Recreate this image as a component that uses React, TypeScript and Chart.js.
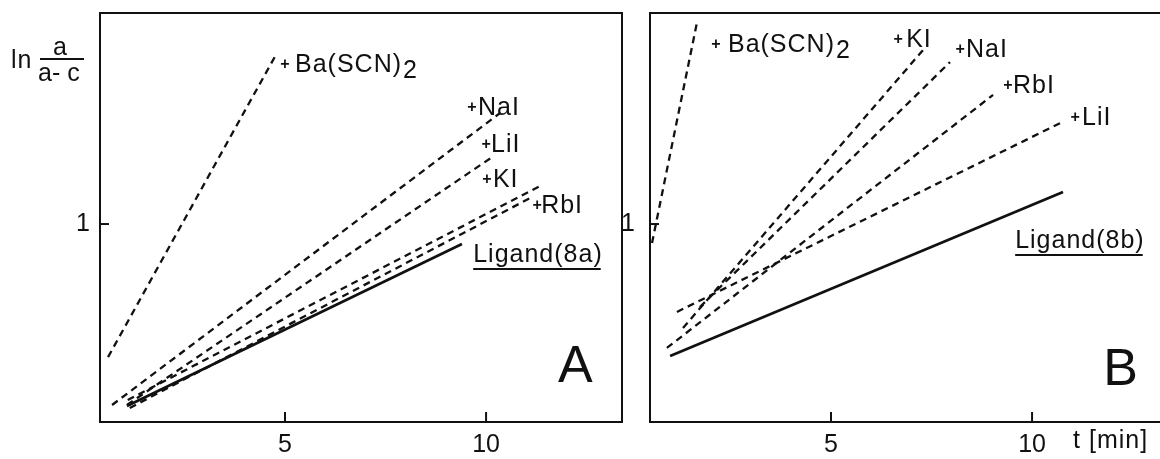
import React, { useEffect, useRef } from 'react';
import { Chart, registerables } from 'chart.js';

Chart.register(...registerables);

const FONT = '"Liberation Sans", Arial, sans-serif';
const INK = '#111111';

// axis ticks
const xTickValues = [5, 10];
const yTickValues = [1];

// Panel A
const seriesA = ['Ba(SCN)2', 'NaI', 'LiI', 'KI', 'RbI', 'Ligand(8a)'];
const timesA = [[0.6, 4.8], [0.7, 10.35], [1.07, 10.15], [1.09, 11.34], [1.14, 11.14], [1.07, 9.4]];
const valuesA = [[0.328, 1.864], [0.086, 1.561], [0.086, 1.338], [0.111, 1.192], [0.071, 1.136], [0.081, 0.899]];

// Panel B
const seriesB = ['Ba(SCN)2', 'KI', 'NaI', 'RbI', 'LiI', 'Ligand(8b)'];
const timesB = [[0.55, 1.67], [1.32, 7.29], [1.74, 7.96], [0.92, 9.03], [1.17, 10.75], [1.0, 10.77]];
const valuesB = [[0.904, 2.02], [0.475, 1.879], [0.581, 1.818], [0.374, 1.652], [0.556, 1.515], [0.333, 1.162]];

// label anchors (data units)
const labelsA = [
  { text: 'Ba(SCN)', sub: '2', x: 5.0, y: 1.768, gap: 10 },
  { text: 'NaI', x: 9.65, y: 1.551, gap: 6 },
  { text: 'LiI', x: 10.0, y: 1.364, gap: 5 },
  { text: 'KI', x: 10.02, y: 1.187, gap: 6 },
  { text: 'RbI', x: 11.27, y: 1.056, gap: 4 },
];
const labelsB = [
  { text: 'Ba(SCN)', sub: '2', x: 2.14, y: 1.869, gap: 12 },
  { text: 'KI', x: 6.67, y: 1.894, gap: 8 },
  { text: 'NaI', x: 8.21, y: 1.843, gap: 6 },
  { text: 'RbI', x: 9.4, y: 1.662, gap: 5 },
  { text: 'LiI', x: 11.07, y: 1.5, gap: 7 },
];
const ligandA = { text: 'Ligand(8a)', x: 9.68, y: 0.808 };
const ligandB = { text: 'Ligand(8b)', x: 9.58, y: 0.879 };
const letterA = { text: 'A', x: 11.79, y: 0.202 };
const letterB = { text: 'B', x: 11.77, y: 0.187 };

type Panel = {
  names: string[];
  times: number[][];
  values: number[][];
  labels: any[];
  ligand: any;
  letter: any;
  xmin: number;
  xmax: number;
  yWidth: number;
  padRight: number;
  yPad: number;
  title: 'y' | 'x';
};

const YMAX = 2.066;

function annotations(p: Panel) {
  return {
    id: 'annot' + p.title,
    afterDraw(chart: any) {
      const { ctx, chartArea } = chart;
      const xs = chart.scales.x;
      const ys = chart.scales.y;
      ctx.save();
      // frame
      ctx.strokeStyle = INK;
      ctx.lineWidth = 2;
      ctx.strokeRect(chartArea.left, chartArea.top, chartArea.right - chartArea.left, chartArea.bottom - chartArea.top);
      // inward tick marks
      ctx.lineWidth = 2;
      xs.ticks.forEach((t: any) => {
        const px = xs.getPixelForValue(t.value);
        ctx.beginPath();
        ctx.moveTo(px, chartArea.bottom);
        ctx.lineTo(px, chartArea.bottom - 10);
        ctx.stroke();
      });
      ys.ticks.forEach((t: any) => {
        const py = ys.getPixelForValue(t.value);
        ctx.beginPath();
        ctx.moveTo(chartArea.left, py);
        ctx.lineTo(chartArea.left + 9, py);
        ctx.stroke();
      });
      ctx.fillStyle = INK;
      ctx.textAlign = 'left';
      ctx.textBaseline = 'alphabetic';
      // series labels
      p.labels.forEach((l: any) => {
        const px = xs.getPixelForValue(l.x);
        const py = ys.getPixelForValue(l.y);
        ctx.font = 'bold 16px ' + FONT;
        (ctx as any).letterSpacing = '0px';
        ctx.textAlign = 'center';
        ctx.fillText('+', px, py - 3);
        ctx.textAlign = 'left';
        ctx.font = '25px ' + FONT;
        (ctx as any).letterSpacing = '1px';
        const tx = px + l.gap;
        ctx.fillText(l.text, tx, py);
        if (l.sub) {
          const w = ctx.measureText(l.text).width;
          ctx.fillText(l.sub, tx + w + 1, py + 6);
        }
      });
      // ligand label with underline
      {
        const px = xs.getPixelForValue(p.ligand.x);
        const py = ys.getPixelForValue(p.ligand.y);
        ctx.font = '25px ' + FONT;
        (ctx as any).letterSpacing = '1px';
        ctx.fillText(p.ligand.text, px, py);
        const w = ctx.measureText(p.ligand.text).width;
        ctx.beginPath();
        ctx.lineWidth = 2;
        ctx.moveTo(px, py + 7);
        ctx.lineTo(px + w - 2, py + 7);
        ctx.stroke();
      }
      // panel letter
      {
        const px = xs.getPixelForValue(p.letter.x);
        const py = ys.getPixelForValue(p.letter.y);
        ctx.font = '52px ' + FONT;
        (ctx as any).letterSpacing = '0px';
        ctx.fillText(p.letter.text, px, py);
      }
      // axis titles
      ctx.font = '25px ' + FONT;
      (ctx as any).letterSpacing = '1px';
      if (p.title === 'y') {
        ctx.fillText('ln', 11, 68);
        (ctx as any).letterSpacing = '0px';
        ctx.fillText('a', 53, 55);
        ctx.beginPath();
        ctx.lineWidth = 2;
        ctx.moveTo(40, 59);
        ctx.lineTo(84, 59);
        ctx.stroke();
        ctx.fillText('a- c', 38, 81);
      } else {
        const px = xs.getPixelForValue(11.02);
        ctx.fillText('t [min]', px, chartArea.bottom + 26);
      }
      ctx.restore();
    },
  };
}

function makeChart(canvas: HTMLCanvasElement, p: Panel) {
  const last = p.names.length - 1;
  return new Chart(canvas, {
    type: 'line',
    data: {
      datasets: p.names.map((n, i) => ({
        label: n,
        data: p.times[i].map((x, j) => ({ x, y: p.values[i][j] })),
        borderColor: INK,
        borderWidth: i === last ? 2.7 : 2.3,
        borderDash: i === last ? [] : [7, 5],
        pointRadius: 0,
        fill: false,
        tension: 0,
      })),
    },
    options: {
      animation: false,
      responsive: false,
      maintainAspectRatio: false,
      events: [],
      layout: { padding: { top: 13, right: p.padRight, left: 0, bottom: 0 } },
      plugins: { legend: { display: false }, tooltip: { enabled: false } },
      scales: {
        x: {
          type: 'linear',
          min: p.xmin,
          max: p.xmax,
          grid: { display: false, drawTicks: false, tickLength: 0 },
          border: { display: false },
          ticks: { font: { family: FONT, size: 25 }, color: INK, padding: 8, maxRotation: 0, autoSkip: false },
          afterBuildTicks: (s: any) => {
            s.ticks = xTickValues.map((v) => ({ value: v }));
          },
          afterFit: (s: any) => {
            s.height = 37;
            s.paddingLeft = 0;
            s.paddingRight = 0;
          },
        },
        y: {
          type: 'linear',
          min: 0,
          max: YMAX,
          grid: { display: false, drawTicks: false, tickLength: 0 },
          border: { display: false },
          ticks: { font: { family: FONT, size: 25 }, color: INK, padding: p.yPad, autoSkip: false },
          afterBuildTicks: (s: any) => {
            s.ticks = yTickValues.map((v) => ({ value: v }));
          },
          afterFit: (s: any) => {
            s.width = p.yWidth;
            s.paddingTop = 0;
            s.paddingBottom = 0;
          },
        },
      },
    } as any,
    plugins: [annotations(p)],
  });
}

const panelA: Panel = {
  names: seriesA, times: timesA, values: valuesA, labels: labelsA, ligand: ligandA, letter: letterA,
  xmin: 0.4, xmax: 13.38, yWidth: 100, padRight: 18, yPad: 10, title: 'y',
};
const panelB: Panel = {
  names: seriesB, times: timesB, values: valuesB, labels: labelsB, ligand: ligandB, letter: letterB,
  xmin: 0.5, xmax: 13.43, yWidth: 50, padRight: 30, yPad: 15, title: 'x',
};

export default function App() {
  const refA = useRef<HTMLCanvasElement>(null);
  const refB = useRef<HTMLCanvasElement>(null);
  useEffect(() => {
    const a = makeChart(refA.current!, panelA);
    const b = makeChart(refB.current!, panelB);
    return () => {
      a.destroy();
      b.destroy();
    };
  }, []);
  return (
    <div style={{ position: 'fixed', left: 0, top: 0, width: 1160, height: 459, overflow: 'hidden', background: '#fff' }}>
      <canvas ref={refA} width={640} height={459} style={{ position: 'absolute', left: 0, top: 0, width: 640, height: 459 }} />
      <canvas ref={refB} width={600} height={459} style={{ position: 'absolute', left: 600, top: 0, width: 600, height: 459 }} />
    </div>
  );
}
